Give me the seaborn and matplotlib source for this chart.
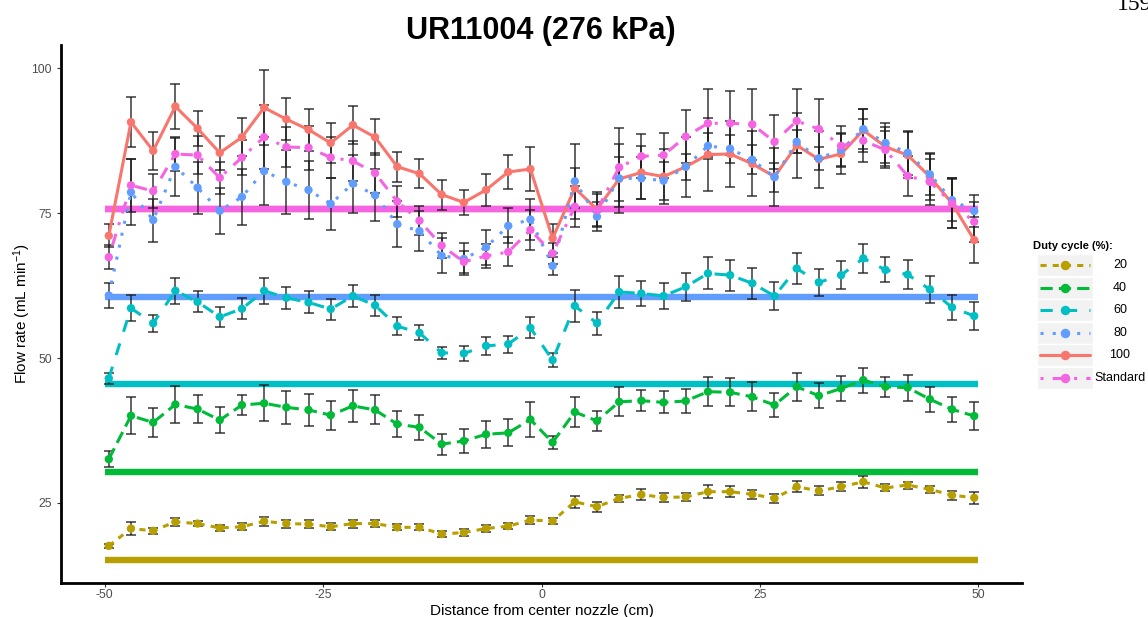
import numpy as np
import pandas as pd
import matplotlib
matplotlib.use("Agg")
import matplotlib.pyplot as plt
from matplotlib.lines import Line2D
from matplotlib.patches import Rectangle
import seaborn as sns

# ---------------- data ----------------
distance = [-49.53, -46.99, -44.45, -41.91, -39.37, -36.83, -34.29, -31.75, -29.21, -26.67,
            -24.13, -21.59, -19.05, -16.51, -13.97, -11.43, -8.89, -6.35, -3.81, -1.27,
            1.27, 3.81, 6.35, 8.89, 11.43, 13.97, 16.51, 19.05, 21.59, 24.13,
            26.67, 29.21, 31.75, 34.29, 36.83, 39.37, 41.91, 44.45, 46.99, 49.53]

levels = ["100", "20", "40", "60", "80", "Standard"]
legend_levels = ["20", "40", "60", "80", "100", "Standard"]

flow_100 = [71.1, 90.7, 85.75, 93.4, 89.6, 85.4, 88.1, 93.2, 91.2, 89.4,
            87.1, 90.2, 88.1, 83.0, 81.8, 78.2, 76.85, 79.0, 82.1, 82.6,
            70.65, 79.3, 75.65, 80.9, 82.0, 81.3, 83.0, 85.1, 85.2, 83.5,
            81.3, 86.7, 84.3, 85.2, 89.3, 86.45, 85.0, 81.3, 76.7, 70.35]
err_100 = [2.0, 4.3, 3.3, 3.9, 3.0, 2.9, 3.3, 6.5, 3.6, 3.6,
           3.45, 3.3, 3.1, 2.6, 2.5, 2.6, 2.2, 2.7, 3.0, 3.85,
           2.5, 3.4, 3.0, 3.8, 4.5, 4.8, 5.2, 6.3, 5.7, 5.6,
           5.0, 5.6, 4.9, 3.5, 3.7, 3.4, 4.0, 4.0, 4.3, 4.0]

flow_std = [67.4, 79.8, 78.8, 85.2, 85.0, 81.1, 84.6, 88.1, 86.4, 86.3,
            84.6, 84.0, 81.9, 77.0, 73.7, 69.4, 66.6, 67.6, 68.3, 72.1,
            68.05, 76.1, 75.5, 82.9, 84.8, 85.0, 88.2, 90.5, 90.5, 90.3,
            87.3, 90.9, 89.5, 86.6, 87.5, 85.9, 81.4, 80.4, 76.7, 73.5]
err_std = [2.1, 4.6, 2.9, 3.0, 3.3, 2.8, 3.0, 5.5, 3.5, 3.8,
           3.5, 3.4, 3.5, 2.7, 2.5, 2.2, 1.9, 2.0, 2.5, 3.4,
           1.8, 3.5, 2.8, 6.8, 3.8, 3.9, 4.6, 5.9, 5.5, 6.1,
           4.7, 5.5, 5.2, 3.5, 3.7, 3.2, 3.5, 4.0, 4.3, 3.5]

flow_80 = [60.8, 78.6, 73.8, 83.0, 79.4, 75.4, 77.8, 82.25, 80.4, 79.0,
           76.6, 80.1, 78.1, 73.1, 71.9, 67.65, 67.1, 69.1, 72.8, 73.9,
           65.9, 80.5, 74.4, 81.0, 81.0, 80.6, 83.0, 86.6, 86.1, 84.2,
           81.2, 87.3, 84.45, 85.9, 89.5, 87.1, 85.4, 81.7, 77.25, 75.35]
err_80 = [2.2, 5.7, 3.7, 5.0, 4.5, 4.0, 4.8, 5.8, 5.5, 5.0,
          4.5, 5.0, 4.5, 4.0, 3.5, 3.0, 2.8, 3.0, 3.0, 3.5,
          1.5, 6.5, 2.5, 6.0, 3.6, 3.3, 2.2, 2.3, 2.4, 2.5,
          2.5, 2.0, 2.0, 3.0, 3.5, 3.4, 3.8, 3.5, 3.6, 2.8]

flow_60 = [46.5, 58.6, 56.0, 61.6, 59.7, 57.1, 58.5, 61.6, 60.4, 59.6,
           58.45, 60.7, 59.1, 55.5, 54.35, 50.9, 50.8, 52.1, 52.4, 55.2,
           49.65, 59.0, 56.0, 61.4, 61.15, 60.7, 62.3, 64.6, 64.3, 62.9,
           60.7, 65.45, 63.05, 64.3, 67.2, 65.2, 64.4, 61.85, 58.75, 57.25]
err_60 = [1.0, 2.2, 1.45, 2.2, 1.8, 1.7, 1.8, 2.2, 1.9, 1.9,
          1.8, 1.9, 1.8, 1.5, 1.3, 1.0, 1.3, 1.5, 1.45, 1.8,
          1.2, 2.7, 2.0, 2.7, 2.2, 2.3, 2.4, 2.75, 2.7, 2.65,
          2.35, 2.7, 2.3, 2.4, 2.5, 2.15, 2.45, 2.3, 2.1, 2.45]

flow_40 = [32.55, 40.05, 38.9, 42.0, 41.2, 39.3, 41.9, 42.2, 41.5, 41.05,
           40.15, 41.75, 41.05, 38.6, 38.05, 35.15, 35.7, 36.85, 37.1, 39.4,
           35.45, 40.7, 39.15, 42.45, 42.65, 42.35, 42.6, 44.2, 44.1, 43.3,
           41.9, 45.05, 43.5, 44.75, 46.2, 45.05, 44.9, 42.9, 41.15, 40.0]
err_40 = [1.35, 3.2, 2.45, 3.2, 2.4, 2.25, 1.8, 3.1, 2.8, 2.8,
          2.5, 2.8, 2.5, 2.3, 2.1, 1.8, 2.1, 2.3, 2.35, 3.0,
          1.1, 2.6, 1.7, 2.5, 1.8, 1.9, 2.0, 2.5, 2.45, 2.5,
          2.1, 2.45, 2.15, 2.1, 2.15, 1.75, 2.25, 2.15, 2.1, 2.45]

flow_20 = [17.6, 20.6, 20.2, 21.75, 21.45, 20.7, 20.9, 21.85, 21.45, 21.35,
           20.9, 21.45, 21.45, 20.8, 20.8, 19.65, 19.9, 20.6, 21.0, 22.05,
           21.9, 25.2, 24.35, 25.8, 26.45, 25.95, 26.05, 26.95, 26.95, 26.5,
           25.8, 27.8, 27.1, 27.8, 28.65, 27.6, 28.1, 27.35, 26.35, 25.9]
err_20 = [0.4, 1.15, 0.5, 0.65, 0.5, 0.5, 0.6, 0.8, 0.7, 0.7,
          0.6, 0.7, 0.65, 0.5, 0.5, 0.5, 0.55, 0.55, 0.55, 0.75,
          0.5, 1.0, 0.9, 0.6, 0.9, 0.7, 0.7, 1.15, 0.95, 0.8,
          0.8, 0.95, 0.8, 0.8, 1.0, 0.6, 0.6, 0.6, 0.75, 1.0]

# nominal (target) flow rate per duty cycle
nominal = {"20": 15.15, "40": 30.3, "60": 45.45, "80": 60.6, "100": 75.75, "Standard": 75.75}

series = {"100": (flow_100, err_100), "20": (flow_20, err_20), "40": (flow_40, err_40),
          "60": (flow_60, err_60), "80": (flow_80, err_80), "Standard": (flow_std, err_std)}

x_ticks = [-50, -25, 0, 25, 50]
y_ticks = [25, 50, 75, 100]

# ---------------- styling ----------------
palette = {"100": "#F8766D", "20": "#B79F00", "40": "#00BA38",
           "60": "#00BFC4", "80": "#619CFF", "Standard": "#F564E3"}
dashes = {"100": "", "20": (2, 2), "40": (4, 2), "60": (4, 4),
          "80": (1, 3), "Standard": (1, 3, 4, 3)}

sns.set_theme(style="white")
plt.rcParams["font.family"] = ["Liberation Sans", "DejaVu Sans"]
plt.rcParams["mathtext.fontset"] = "custom"
plt.rcParams["mathtext.rm"] = "Liberation Sans"
plt.rcParams["text.color"] = "black"

rows = []
for lv in levels:
    vals, errs = series[lv]
    for xv, yv, ev in zip(distance, vals, errs):
        rows.append({"distance": xv, "flow": yv, "err": ev, "duty": lv})
df = pd.DataFrame(rows)

W, H = 1148, 617
fig = plt.figure(figsize=(W / 100, H / 100), dpi=100)
ax = fig.add_axes([61 / W, 34 / H, 961 / W, 538 / H])

# nominal bars
for lv in ["20", "40", "60", "80", "100", "Standard"]:
    ax.plot([-50, 50], [nominal[lv], nominal[lv]], color=palette[lv], lw=4.6,
            solid_capstyle="butt", zorder=1)

# error bars
for lv in levels:
    d = df[df.duty == lv]
    ax.errorbar(d["distance"], d["flow"], yerr=d["err"], fmt="none",
                ecolor="#1a1a1a", elinewidth=1.2, capsize=3.6, capthick=1.2,
                alpha=0.8, zorder=2)

# lines
sns.lineplot(data=df, x="distance", y="flow", hue="duty", style="duty",
             hue_order=levels, style_order=levels, palette=palette, dashes=dashes,
             linewidth=2.2, estimator=None, sort=False, legend=False, ax=ax, zorder=3)
# points
sns.scatterplot(data=df, x="distance", y="flow", hue="duty", hue_order=levels,
                palette=palette, s=36, linewidth=0, legend=False, ax=ax, zorder=4)

ax.set_xlim(-55, 55)
ax.set_ylim(11.2, 104.0)
ax.set_xticks(x_ticks)
ax.set_yticks(y_ticks)
ax.set_xticklabels([str(t) for t in x_ticks])
ax.set_yticklabels([str(t) for t in y_ticks])
ax.tick_params(axis="both", colors="#333333", labelcolor="#4D4D4D", labelsize=8.8,
               length=3, width=0.8, direction="out", left=True, bottom=True)
ax.tick_params(axis="x", pad=1.5)
for s in ["top", "right"]:
    ax.spines[s].set_visible(False)
for s in ["left", "bottom"]:
    ax.spines[s].set_color("black")
    ax.spines[s].set_linewidth(2.0)
ax.grid(False)

ax.set_xlabel("Distance from center nozzle (cm)", fontsize=11, color="black")
ax.set_ylabel("Flow rate (mL min$\\mathregular{^{-1}}$)", fontsize=11, color="black")
ax.xaxis.set_label_coords(0.5, -0.039)
ax.yaxis.set_label_coords(-0.029, 0.5)

fig.text(541 / W, 1 - 31 / H, "UR11004 (276 kPa)", ha="center", va="center",
         fontsize=22, fontweight="bold", color="black")

# page number fragment at top-right (clipped by the page edge, as in the source)
fig.text(1117 / W, 1 - 10 / H, "159", ha="left", va="baseline", fontsize=17,
         family=["Liberation Serif", "DejaVu Serif"], color="black")

# ---------------- legend (manual, ggplot style) ----------------
def fx(px):
    return px / W


def fy(py):
    return 1 - py / H


fig.text(fx(1033), fy(246), "Duty cycle (%):", fontsize=8, fontweight="bold",
         ha="left", va="center")
row_y0, row_dy = 265, 22.6
kx0, kx1 = 1037, 1093
for i, lv in enumerate(legend_levels):
    cy = row_y0 + i * row_dy
    fig.add_artist(Rectangle((fx(kx0), fy(cy + 11)), (kx1 - kx0) / W, 22 / H,
                             transform=fig.transFigure, facecolor="#F2F2F2",
                             edgecolor="white", lw=1.0))
    ln = Line2D([fx(kx0 + 3), fx(kx1 - 3)], [fy(cy), fy(cy)], transform=fig.transFigure,
                color=palette[lv], lw=2.2)
    if dashes[lv]:
        ln.set_dashes(dashes[lv])
    fig.add_artist(ln)
    fig.add_artist(Line2D([fx((kx0 + kx1) / 2)], [fy(cy)], transform=fig.transFigure,
                          color=palette[lv], marker="o", markersize=5.8, lw=0))
    fig.text(fx(1120), fy(cy), lv, fontsize=9, ha="center", va="center")

fig.savefig("out.png", dpi=100)
